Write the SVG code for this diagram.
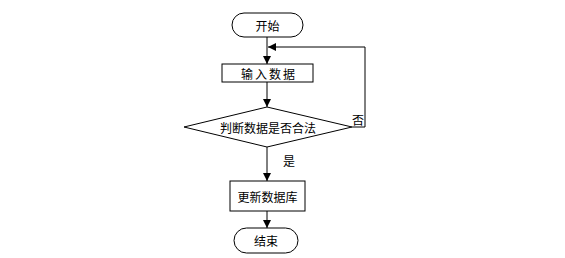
<svg xmlns="http://www.w3.org/2000/svg" width="565" height="258" viewBox="0 0 565 258">
<style>
.s{fill:#fff;stroke:#000;stroke-width:1}
.t{font-family:"Noto Sans CJK SC","Liberation Sans",sans-serif;font-size:12px;fill:#000;text-anchor:middle;dominant-baseline:central}
.c{fill:none;stroke:#000;stroke-width:1}
</style>
<defs>
<marker id="a" markerWidth="8" markerHeight="8" refX="8" refY="4" orient="auto" markerUnits="userSpaceOnUse">
<path d="M0,0 L8,4 L0,8 Z" fill="#000"/>
</marker>
</defs>
<rect width="565" height="258" fill="#fff"/>
<g id="connectors">
<line class="c" x1="267" y1="37" x2="267" y2="64" marker-end="url(#a)"/>
<line class="c" x1="267" y1="82" x2="267" y2="107" marker-end="url(#a)"/>
<line class="c" x1="267" y1="147" x2="267" y2="181" marker-end="url(#a)"/>
<line class="c" x1="267" y1="211" x2="267" y2="228" marker-end="url(#a)"/>
<polyline class="c" points="352,127 365,127 365,47 268,47" marker-end="url(#a)"/>
<text class="t" x="358" y="119">否</text>
<text class="t" x="289" y="160">是</text>
</g>
<g id="start">
<rect class="s" x="232" y="13" width="71" height="24" rx="12"/>
<text class="t" x="267.5" y="25">开始</text>
</g>
<g id="input">
<rect class="s" x="222" y="64" width="91" height="18"/>
<text class="t" x="269" y="73" letter-spacing="2">输入数据</text>
</g>
<g id="decision">
<polygon class="s" points="267,107 352,127 267,147 184,127"/>
<text class="t" x="268" y="127">判断数据是否合法</text>
</g>
<g id="update">
<rect class="s" x="230" y="181" width="75" height="30"/>
<text class="t" x="267.5" y="196">更新数据库</text>
</g>
<g id="end">
<rect class="s" x="234" y="228" width="64" height="25" rx="12.5"/>
<text class="t" x="266" y="240.5">结束</text>
</g>
</svg>
